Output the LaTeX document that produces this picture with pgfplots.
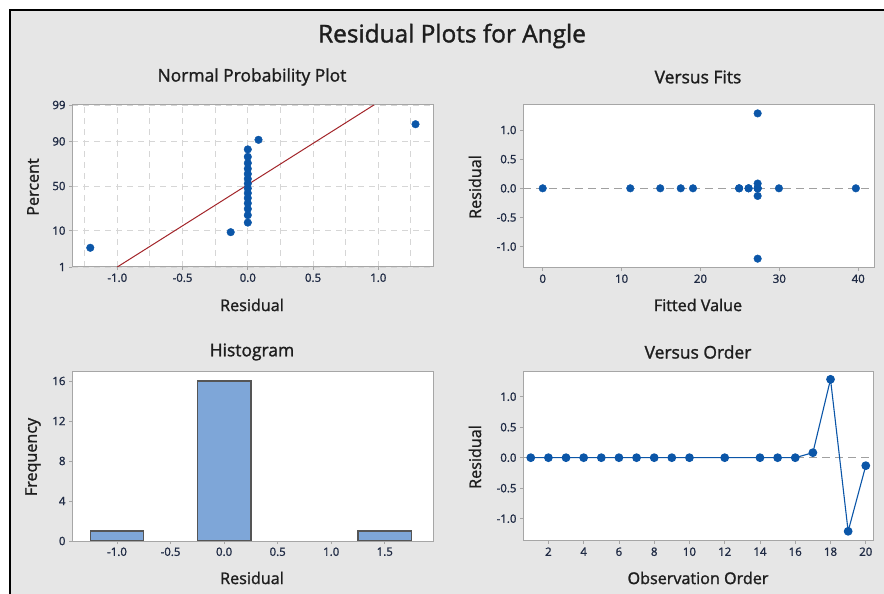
\documentclass[border=0pt]{standalone}
\usepackage{fontspec}
\setmainfont{Open Sans}
\newfontfamily\heavy{Open Sans}[FakeBold=1.4]
\usepackage{pgfplots}
\pgfplotsset{compat=1.18}

\definecolor{panel}{HTML}{E6E6E6}
\definecolor{frame}{HTML}{A6A6A6}
\definecolor{gridc}{HTML}{D6D6D6}
\definecolor{tickc}{HTML}{1F2A44}
\definecolor{labc}{HTML}{1E1E1E}
\definecolor{dotc}{HTML}{0B56A8}
\definecolor{fitred}{HTML}{A3252A}
\definecolor{barfill}{HTML}{7EA6D8}
\definecolor{baredge}{HTML}{555555}
\definecolor{refc}{HTML}{A0A0A0}

\pgfplotsset{
  mt/.style={
    scale only axis,
    anchor=south west,
    axis background/.style={fill=white},
    axis line style={draw=frame, line width=1bp},
    tick style={draw=frame, line width=0.8bp},
    tick align=outside,
    major tick length=3bp,
    xtick pos=bottom, ytick pos=left,
    ticklabel style={font=\heavy\fontsize{11.5}{13}\selectfont, text=tickc},
    /pgf/number format/assume math mode=true,
  },
  dots/.style={only marks, mark=*, mark size=3.8bp, color=dotc},
}

\newcommand{\lab}[1]{\heavy\fontsize{16.2}{19}\selectfont #1}
\newcommand{\sub}[1]{\heavy\fontsize{17.5}{20}\selectfont #1}

\begin{document}
\begin{tikzpicture}[every node/.style={text=labc}]
\path[use as bounding box] (0,0) rectangle (884bp,594bp);
\fill[panel] (10bp,0) rectangle (884bp,584bp);
\draw[black, line width=1.6bp] (10bp,0) -- (10bp,584bp) -- (884bp,584bp);

\node at (452bp,558bp) {\heavy\fontsize{24.5}{29}\selectfont Residual Plots for Angle};

% Normal probability plot (y in normal scores)
\begin{axis}[mt, at={(72bp,327bp)}, width=361bp, height=162bp,
  xmin=-1.347, xmax=1.419, ymin=-2.326, ymax=2.326,
  xtick={-1,-0.5,0,0.5,1},
  xticklabels={-1.0,-0.5,0.0,0.5,1.0},
  minor xtick={-1.25,-0.75,-0.25,0.25,0.75,1.25},
  ytick={-2.326,-1.2816,0,1.2816,2.326},
  yticklabels={1,10,50,90,99},
  grid=both,
  major grid style={draw=gridc, dash pattern=on 6bp off 5bp, line width=0.9bp},
  minor grid style={draw=gridc, dash pattern=on 6bp off 5bp, line width=0.9bp},
  minor tick length=0bp,
]
\addplot[fitred, line width=1bp] coordinates {(-1.0,-2.326)(0.966,2.326)};
\addplot[dots] coordinates {
  (-1.207,-1.774)(-0.131,-1.326)
  (0,-1.051)(0,-0.838)(0,-0.657)(0,-0.496)(0,-0.347)(0,-0.205)(0,-0.068)
  (0,0.068)(0,0.205)(0,0.347)(0,0.496)(0,0.657)(0,0.838)(0,1.051)
  (0.082,1.326)(1.285,1.774)
};
\end{axis}

% Versus fits
\begin{axis}[mt, at={(523bp,326bp)}, width=351bp, height=163bp,
  xmin=-2.5, xmax=42.0, ymin=-1.367, ymax=1.429,
  xtick={0,10,20,30,40},
  ytick={-1,-0.5,0,0.5,1},
  yticklabels={-1.0,-0.5,0.0,0.5,1.0},
]
\addplot[refc, line width=1.1bp, dash pattern=on 8bp off 5bp] coordinates {(-2.5,0)(42,0)};
\addplot[dots] coordinates {
  (0,0)(11.1,0)(14.9,0)(17.5,0)(19.05,0)(24.9,0)(26.1,0)(27.25,0)(29.95,0)(39.7,0)
  (27.25,0)(27.25,0)(26.1,0)(24.9,0)
  (27.25,0.082)(27.25,1.285)(27.25,-1.207)(27.25,-0.131)
};
\end{axis}

% Histogram
\begin{axis}[mt, at={(72bp,53bp)}, width=361bp, height=169bp,
  xmin=-1.42, xmax=1.95, ymin=0, ymax=16.9,
  xtick={-1,-0.5,0,0.5,1,1.5},
  xticklabels={-1.0,-0.5,0.0,0.5,1.0,1.5},
  ytick={0,4,8,12,16},
  ybar, bar width=0.5,
]
\addplot[fill=barfill, draw=baredge, line width=1.3bp] coordinates {(-1,1)(0,16)(1.5,1)};
\end{axis}

% Versus order
\begin{axis}[mt, at={(523bp,53bp)}, width=350bp, height=169bp,
  xmin=0.56, xmax=20.41, ymin=-1.366, ymax=1.405,
  xtick={2,4,6,8,10,12,14,16,18,20},
  ytick={-1,-0.5,0,0.5,1},
  yticklabels={-1.0,-0.5,0.0,0.5,1.0},
]
\addplot[refc, line width=1.1bp, dash pattern=on 8bp off 5bp] coordinates {(0.56,0)(20.41,0)};
\addplot[dotc, line width=1.1bp, mark=*, mark size=3.8bp] coordinates {
  (1,0)(2,0)(3,0)(4,0)(5,0)(6,0)(7,0)(8,0)(9,0)(10,0)
  (12,0)(14,0)(15,0)(16,0)(17,0.082)(18,1.285)(19,-1.207)(20,-0.131)
};
\end{axis}

% subplot titles and axis labels
\node at (252bp,517bp) {\sub{Normal Probability Plot}};
\node at (698bp,517bp) {\sub{Versus Fits}};
\node at (252bp,242bp) {\sub{Histogram}};
\node at (698bp,242bp) {\sub{Versus Order}};

\node at (252bp,289bp) {\lab{Residual}};
\node[rotate=90] at (33bp,407bp) {\lab{Percent}};
\node at (698bp,289bp) {\lab{Fitted Value}};
\node[rotate=90] at (475bp,407bp) {\lab{Residual}};
\node at (252bp,16bp) {\lab{Residual}};
\node[rotate=90] at (33bp,137bp) {\lab{Frequency}};
\node at (698bp,16bp) {\lab{Observation Order}};
\node[rotate=90] at (475bp,137bp) {\lab{Residual}};
\end{tikzpicture}
\end{document}
